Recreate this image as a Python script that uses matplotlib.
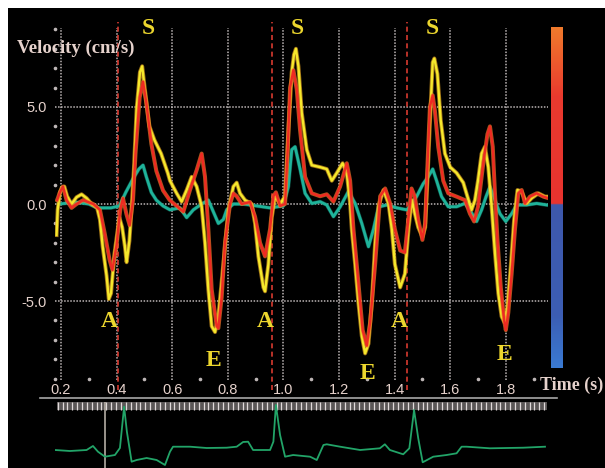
import numpy as np
import matplotlib
matplotlib.use("Agg")
from matplotlib import pyplot as plt
from matplotlib import patheffects as pe
from matplotlib.patches import Rectangle
from matplotlib.lines import Line2D
from matplotlib.colors import LinearSegmentedColormap

# 三条速度曲线 (时间 s, 速度 cm/s)
yellow_t = [0.184, 0.188, 0.196, 0.203, 0.212, 0.222, 0.238, 0.256, 0.274, 0.292, 0.31, 0.33, 0.34, 0.35,
            0.364, 0.372, 0.38, 0.392, 0.41, 0.42, 0.43, 0.436, 0.446, 0.454, 0.462, 0.472, 0.484, 0.492,
            0.5, 0.518, 0.536, 0.56, 0.584, 0.592, 0.616, 0.634, 0.652, 0.67, 0.688, 0.706, 0.718, 0.73,
            0.742, 0.754, 0.766, 0.784, 0.802, 0.82, 0.832, 0.844, 0.862, 0.886, 0.898, 0.91, 0.928, 0.934,
            0.946, 0.958, 0.97, 0.988, 1.006, 1.018, 1.03, 1.038, 1.045, 1.054, 1.066, 1.084, 1.102, 1.132,
            1.156, 1.174, 1.192, 1.213, 1.228, 1.24, 1.246, 1.258, 1.27, 1.282, 1.294, 1.306, 1.318, 1.33,
            1.342, 1.36, 1.378, 1.39, 1.401, 1.42, 1.437, 1.45, 1.462, 1.473, 1.485, 1.5, 1.51, 1.518,
            1.527, 1.537, 1.543, 1.554, 1.566, 1.581, 1.6, 1.623, 1.647, 1.662, 1.677, 1.689, 1.7, 1.713,
            1.725, 1.737, 1.749, 1.761, 1.773, 1.785, 1.795, 1.806, 1.818, 1.83, 1.842, 1.857, 1.875,
            1.893, 1.917, 1.941, 1.953]
yellow_v = [-1.6, -0.3, 0.6, 0.85, 0.9, 0.4, 0.0, 0.35, 0.5, 0.3, 0.0, -0.2, -0.8, -2.2,
            -3.7, -4.9, -4.6, -2.6, -0.7, -1.2, -2.2, -3.0, -1.9, -0.2, 1.7, 4.9, 6.8, 7.1,
            6.1, 4.0, 3.3, 2.6, 1.6, 1.2, 0.55, 0.12, 0.72, 1.4, 0.9, -0.13, -2.0, -4.4,
            -6.3, -6.6, -5.8, -3.1, -0.3, 0.9, 1.1, 0.55, 0.2, 0.0, -1.0, -2.7, -4.3, -4.5,
            -3.1, -0.7, 0.4, 0.0, 0.4, 3.8, 6.8, 7.7, 8.0, 7.1, 4.7, 2.8, 2.0, 1.9,
            1.8, 1.2, 1.6, 2.1, 1.6, 0.03, -1.3, -3.1, -5.1, -6.8, -7.7, -7.2, -5.1, -2.0,
            -0.1, 0.72, 0.03, -1.3, -3.1, -4.3, -3.6, -1.3, 0.2, -0.5, -1.2, -1.7, -1.2, 1.2,
            4.2, 7.3, 7.5, 6.7, 4.3, 2.6, 1.9, 1.6, 1.1, 0.38, -0.3, 0.2, 1.2, 2.6,
            2.95, 1.9, -0.14, -2.5, -4.6, -5.8, -6.1, -5.3, -3.2, -0.8, 0.72, 0.64, 0.03,
            0.3, 0.55, 0.38, 0.38]

red_t = [0.186, 0.196, 0.207, 0.22, 0.238, 0.256, 0.28, 0.316, 0.34, 0.357, 0.375, 0.385, 0.4, 0.413,
         0.423, 0.435, 0.447, 0.459, 0.468, 0.483, 0.495, 0.507, 0.525, 0.543, 0.567, 0.591, 0.616, 0.64,
         0.664, 0.688, 0.706, 0.718, 0.73, 0.742, 0.76, 0.766, 0.778, 0.79, 0.808, 0.82, 0.832, 0.85,
         0.88, 0.898, 0.916, 0.934, 0.952, 0.964, 0.973, 0.988, 1.006, 1.016, 1.024, 1.036, 1.048, 1.06,
         1.078, 1.102, 1.132, 1.156, 1.18, 1.204, 1.228, 1.24, 1.252, 1.27, 1.285, 1.3, 1.312, 1.33,
         1.348, 1.366, 1.384, 1.401, 1.42, 1.437, 1.45, 1.461, 1.473, 1.485, 1.5, 1.51, 1.515, 1.527,
         1.537, 1.545, 1.557, 1.575, 1.593, 1.623, 1.653, 1.671, 1.686, 1.7, 1.719, 1.734, 1.743, 1.753,
         1.761, 1.77, 1.782, 1.794, 1.8, 1.809, 1.821, 1.833, 1.845, 1.857, 1.869, 1.887, 1.911, 1.935,
         1.953]
red_v = [0.2, 0.6, 0.9, 0.2, -0.2, 0.0, 0.2, 0.0, -0.3, -1.5, -2.9, -3.4, -2.1, -0.3,
         0.3, -0.5, -1.1, 0.2, 2.6, 5.5, 6.3, 5.2, 3.1, 1.7, 0.7, 0.2, -0.1, -0.4,
         0.72, 1.75, 2.6, 1.4, -1.3, -4.4, -6.3, -6.4, -4.8, -2.0, 0.0, 0.55, 0.4, 0.0,
         0.1, -0.65, -2.0, -2.7, -1.3, 0.4, 0.6, -0.1, 0.0, 3.0, 6.0, 6.9, 5.9, 3.8,
         1.4, 0.55, 0.4, 0.5, 0.12, 0.9, 2.1, 1.2, -1.3, -4.1, -6.5, -7.3, -6.1, -3.1,
         0.4, 0.8, 0.03, -1.3, -2.4, -2.5, -0.7, 0.8, 0.38, -0.8, -1.85, -1.0, 0.9, 5.0,
         5.6, 4.8, 2.95, 1.2, 0.55, 0.38, 0.2, -0.5, -0.9, -0.14, 2.1, 3.6, 4.0, 2.95,
         0.55, -1.85, -4.3, -6.0, -6.5, -5.6, -3.6, -1.3, 0.55, 0.72, 0.03, 0.38, 0.55, 0.38,
         0.3]

teal_t = [0.196, 0.25, 0.3, 0.33, 0.38, 0.41, 0.433, 0.459, 0.48, 0.495, 0.507, 0.525, 0.543, 0.567,
          0.592, 0.628, 0.652, 0.676, 0.706, 0.73, 0.748, 0.766, 0.784, 0.796, 0.82, 0.856, 0.904, 0.952,
          1.0, 1.018, 1.03, 1.042, 1.06, 1.078, 1.102, 1.132, 1.156, 1.18, 1.204, 1.234, 1.258, 1.282,
          1.306, 1.324, 1.342, 1.372, 1.408, 1.443, 1.455, 1.479, 1.503, 1.521, 1.537, 1.551, 1.569, 1.593,
          1.623, 1.653, 1.671, 1.695, 1.713, 1.729, 1.743, 1.761, 1.779, 1.8, 1.821, 1.839, 1.875, 1.911,
          1.947]
teal_v = [0.0, 0.1, 0.0, -0.2, -0.2, -0.1, 0.6, 1.3, 1.8, 2.0, 1.4, 0.6, 0.2, -0.1,
          -0.3, -0.2, -0.7, -0.3, 0.0, 0.2, -0.4, -1.0, -0.8, -0.3, 0.0, 0.0, -0.1, -0.2,
          -0.1, 0.9, 2.8, 2.95, 1.8, 0.55, 0.03, 0.12, -0.05, -0.65, -0.15, 0.65, 0.03, -1.0,
          -2.2, -1.3, -0.15, -0.05, -0.2, -0.3, -0.14, 0.38, 1.05, 1.4, 1.8, 1.2, 0.38, -0.14,
          -0.14, 0.03, -0.3, -0.9, -0.3, 0.38, 0.9, 0.2, -0.5, -0.9, -0.5, -0.05, -0.05, 0.03,
          -0.05]

# 心电图 (时间 s, 幅度 任意单位)
ecg_t = [0.178, 0.232, 0.292, 0.315, 0.333, 0.358, 0.394, 0.412, 0.427, 0.437, 0.454, 0.472, 0.508,
         0.544, 0.574, 0.592, 0.603, 0.664, 0.724, 0.796, 0.832, 0.855, 0.873, 0.891, 0.952, 0.964,
         0.973, 0.988, 1.006, 1.035, 1.096, 1.12, 1.144, 1.156, 1.204, 1.276, 1.347, 1.365, 1.383,
         1.431, 1.453, 1.47, 1.485, 1.501, 1.539, 1.587, 1.623, 1.641, 1.659, 1.743, 1.863, 1.941]
ecg_v = [0.0, -0.1, 0.0, 0.4, -0.17, -0.67, -0.5, 0.2, 4.33, 1.83, -1.17, -1.0, -0.8,
         -1.0, -1.5, -0.17, 0.33, 0.33, 0.2, 0.23, 0.33, 0.8, 0.83, 0.0, 0.0, 0.83,
         4.5, 1.5, -0.67, -0.5, -0.67, -1.0, 0.5, 0.57, 0.33, 0.0, 0.17, 0.57, 0.0,
         -0.43, 0.17, 4.0, 1.17, -1.23, -0.67, -0.5, -0.33, 0.33, 0.33, 0.17, 0.23, 0.33]

# 红色虚线 (时间) 和 S/A/E 标注
red_marks = [0.405, 0.96, 1.445]
wave_labels = ["S", "S", "S", "A", "A", "A", "E", "E", "E"]
wave_t = [0.514, 1.049, 1.535, 0.373, 0.934, 1.418, 0.747, 1.301, 1.797]
wave_v = [9.07, 9.07, 9.07, -6.08, -6.08, -6.08, -8.09, -8.71, -7.78]

x_ticks = [0.2, 0.4, 0.6, 0.8, 1.0, 1.2, 1.4, 1.6, 1.8]
y_ticks = [-5.0, 0.0, 5.0]

W, H = 605, 468
txt_col = "#e6d2cc"
grid_col = "#bdb6b6"

fig = plt.figure(figsize=(W / 100, H / 100), dpi=100, facecolor="white")
fig.add_artist(Rectangle((8 / W, 0), 1, (H - 8) / H, transform=fig.transFigure,
                         facecolor="black", edgecolor="none", zorder=0))

# 主图
ax = fig.add_axes([55 / W, (H - 380) / H, 493 / W, 352 / H])
ax.set_facecolor("none")
ax.set_xlim(0.1784, 1.9518)
ax.set_ylim(-9.07, 9.07)
for s in ax.spines.values():
    s.set_visible(False)

ax.set_xticks(x_ticks)
ax.set_xticklabels(["%.1f" % v for v in x_ticks])
ax.set_yticks(y_ticks)
ax.set_yticklabels(["%.1f" % v for v in y_ticks])
ax.tick_params(length=0, colors=txt_col, labelsize=10.5)
ax.tick_params(axis="x", pad=2)
ax.tick_params(axis="y", pad=6)
for lab in ax.get_xticklabels() + ax.get_yticklabels():
    lab.set_family("Liberation Sans")
ax.grid(True, color=grid_col, linestyle=(0, (1, 1)), linewidth=1.1)

# 小刻度点
ax.plot(np.arange(0.3, 1.95, 0.2), [-9.0] * 9, ls="none", marker="o", ms=1.6,
        color=grid_col, clip_on=False)
minor_y = [v for v in range(-9, 10) if v % 5 != 0]
ax.plot([0.1784] * len(minor_y), minor_y, ls="none", marker="o", ms=1.6,
        color=grid_col, clip_on=False)

for t in red_marks:
    ax.vlines(t, -9.6, 9.4, color="#d83a30", linestyle=(0, (3, 2)), linewidth=1.2,
              clip_on=False, zorder=2)

ax.plot(teal_t, teal_v, color="#1fb39a", lw=2.0, zorder=3,
        path_effects=[pe.Stroke(linewidth=2.8, foreground="#137a68", alpha=0.6), pe.Normal()])
ax.plot(yellow_t, yellow_v, color="#f6e82c", lw=1.7, zorder=4,
        path_effects=[pe.Stroke(linewidth=2.9, foreground="#e0a020", alpha=0.7), pe.Normal()])
ax.plot(red_t, red_v, color="#ee2a22", lw=1.7, zorder=5,
        path_effects=[pe.Stroke(linewidth=2.9, foreground="#f07a2a", alpha=0.7), pe.Normal()])

for lab, t, v in zip(wave_labels, wave_t, wave_v):
    ax.text(t, v, lab, color="#ecd62e", fontsize=17, fontweight="bold",
            family="Liberation Serif", ha="center", va="center", zorder=6)

fig.text(17 / W, 1 - 48 / H, "Velocity (cm/s)", color=txt_col, fontsize=13.5,
         fontweight="bold", family="Liberation Serif", ha="left", va="center")
fig.text(540 / W, 1 - 385 / H, "Time (s)", color=txt_col, fontsize=13,
         fontweight="bold", family="Liberation Serif", ha="left", va="center")

# 右侧颜色条
cax = fig.add_axes([550.5 / W, (H - 368) / H, 12 / W, 341 / H])
cmap = LinearSegmentedColormap.from_list(
    "bar", [(0.0, "#3a7ad2"), (0.15, "#3c5eb4"), (0.4815, "#3e58ac"),
            (0.4825, "#e8332f"), (0.8, "#ea3a2e"), (1.0, "#f07a2c")])
cax.imshow(np.linspace(0, 1, 300).reshape(-1, 1), cmap=cmap, aspect="auto",
           origin="lower", extent=[0, 1, 0, 1])
cax.set_axis_off()

# 底部心电图
fig.add_artist(Line2D([40 / W, 557 / W], [1 - 398 / H, 1 - 398 / H], color="#a8a8a8",
                      lw=1.2, transform=fig.transFigure))
ax2 = fig.add_axes([55 / W, 0, 493 / W, 70 / H])
ax2.set_facecolor("none")
ax2.set_xlim(0.1784, 1.9518)
ax2.set_ylim(-1.8, 5.2)
ax2.set_axis_off()
ax2.add_patch(Rectangle((0.185, 4.0), 1.948 - 0.185, 0.85, facecolor="#5a5656",
                        edgecolor="none", zorder=1))
ax2.vlines(np.arange(0.188, 1.95, 0.0175), 4.05, 4.8, color="#e0dada", lw=0.9, zorder=2)
ax2.vlines(0.358, -1.8, 4.85, color="#b4aca4", lw=1.2, zorder=2)
ax2.plot(ecg_t, ecg_v, color="#22a468", lw=1.3, zorder=3)

plt.savefig("out.png", dpi=100, facecolor=fig.get_facecolor())
